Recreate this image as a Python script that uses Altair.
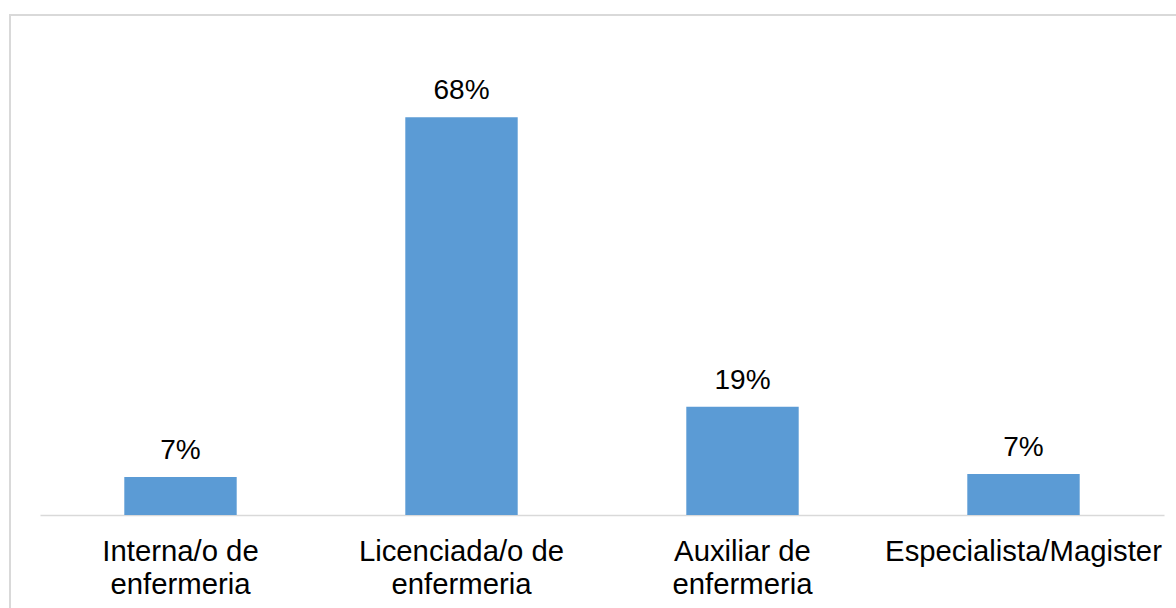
import altair as alt
import pandas as pd

categories = ["Interna/o de|enfermeria", "Licenciada/o de|enfermeria", "Auxiliar de|enfermeria", "Especialista/Magister"]
values = [6.5, 68.0, 18.5, 7.0]
labels = ["7%", "68%", "19%", "7%"]

df = pd.DataFrame({"cat": categories, "val": values, "lab": labels})

FONT = "Liberation Sans"

x = alt.X("cat:N", sort=categories, title=None,
          scale=alt.Scale(paddingInner=0.6, paddingOuter=0.3),
          axis=alt.Axis(labelAngle=0, labelExpr="split(datum.label, '|')",
                        labelFontSize=29.3, labelFont=FONT, labelColor="#000000",
                        labelLineHeight=33, labelPadding=22, ticks=False,
                        domainColor="#d9d9d9", domainWidth=1.5, grid=False,
                        labelLimit=400))
y = alt.Y("val:Q", title=None, scale=alt.Scale(domain=[0, 80], nice=False), axis=None)

frame = alt.Chart(df).mark_rect(fill=None, stroke="#d9d9d9", strokeWidth=2).encode(
    x=alt.value(-30), x2=alt.value(1200), y=alt.value(-32), y2=alt.value(700))

bars = alt.Chart(df).mark_bar(color="#5B9BD5").encode(x=x, y=y)
text = alt.Chart(df).mark_text(baseline="alphabetic", dy=-18, fontSize=28, font=FONT,
                               color="#000000").encode(x=x, y=y, text="lab:N")

chart = alt.layer(frame, bars, text).properties(
    width=1124, height=468,
    padding={"left": 40, "top": 47, "right": 12, "bottom": 93},
    autosize=alt.AutoSizeParams(type="none"),
    background="white",
).configure_view(stroke=None)

chart.save("out.html", embed_options={"renderer": "svg", "actions": False})
